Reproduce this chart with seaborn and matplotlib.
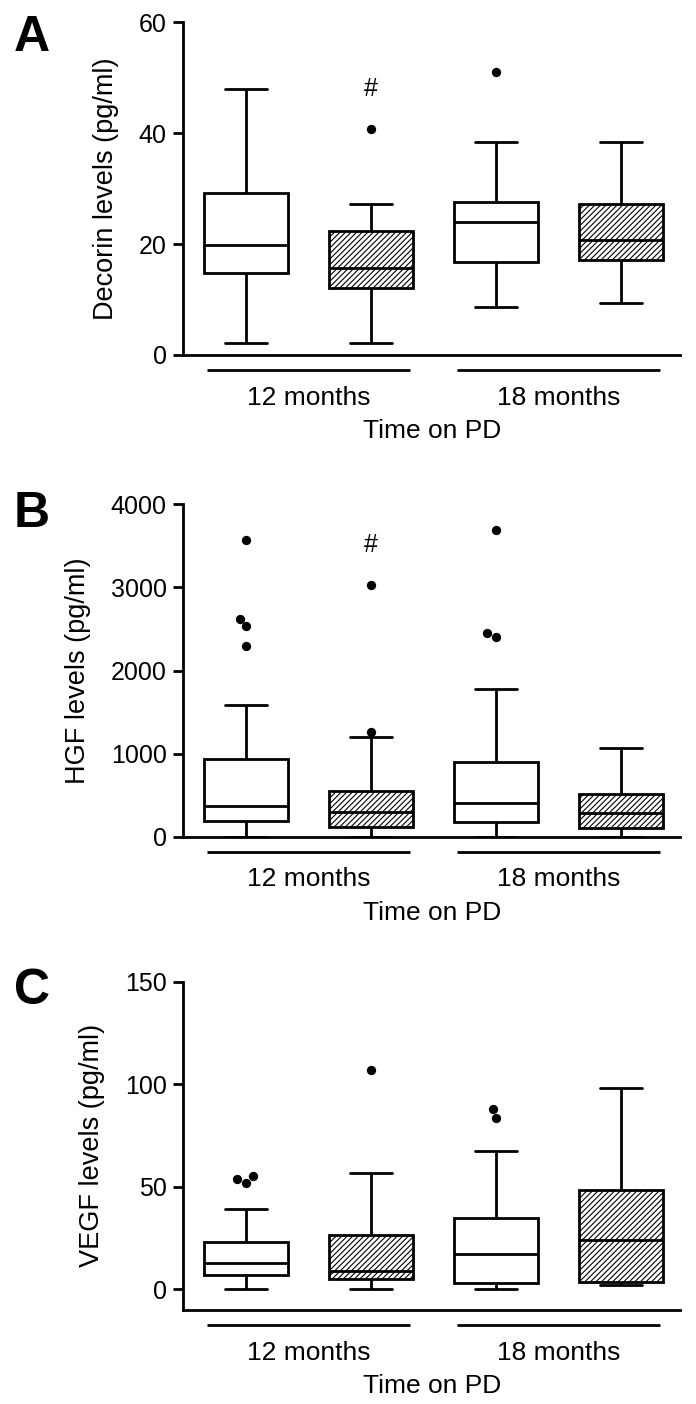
import numpy as np
import pandas as pd
import matplotlib
matplotlib.use("Agg")
import matplotlib.pyplot as plt
import matplotlib.transforms as mtransforms
import seaborn as sns

# ---------------- data ----------------
time_labels = ["12 months", "18 months"]
box_hatch = ["", "//////", "", "//////"]     # open / hatched boxes per time point

decorin_low = [2.1, 2.1, 8.7, 9.4]
decorin_q1 = [14.8, 12.0, 16.7, 17.2]
decorin_median = [19.9, 15.7, 24.0, 20.8]
decorin_q3 = [29.3, 22.3, 27.6, 27.2]
decorin_high = [47.9, 27.2, 38.5, 38.4]
decorin_outliers = [[], [40.7], [51.0], []]
decorin_sig = [1]

hgf_low = [0, 0, 0, 0]
hgf_q1 = [192, 113, 181, 101]
hgf_median = [365, 292, 402, 285]
hgf_q3 = [932, 554, 893, 516]
hgf_high = [1580, 1200, 1780, 1062]
hgf_outliers = [[2292, 2533, 2619, 3569], [1257, 3030], [2400, 2449, 3693], []]
hgf_sig = [1]

vegf_low = [0, 0, 0, 2.1]
vegf_q1 = [7.1, 5.2, 3.3, 3.7]
vegf_median = [13.0, 9.1, 17.1, 23.9]
vegf_q3 = [23.1, 26.4, 35.0, 48.6]
vegf_high = [39.3, 57.0, 67.5, 98.0]
vegf_outliers = [[52.1, 53.7, 55.1], [107.1], [83.7, 88.0], []]
vegf_sig = []

panels = [
    dict(letter="A", ylabel="Decorin levels (pg/ml)", low=decorin_low, q1=decorin_q1,
         med=decorin_median, q3=decorin_q3, high=decorin_high, out=decorin_outliers,
         sig=decorin_sig, ylim=(0, 60), yticks=[0, 20, 40, 60]),
    dict(letter="B", ylabel="HGF levels (pg/ml)", low=hgf_low, q1=hgf_q1,
         med=hgf_median, q3=hgf_q3, high=hgf_high, out=hgf_outliers,
         sig=hgf_sig, ylim=(0, 4000), yticks=[0, 1000, 2000, 3000, 4000]),
    dict(letter="C", ylabel="VEGF levels (pg/ml)", low=vegf_low, q1=vegf_q1,
         med=vegf_median, q3=vegf_q3, high=vegf_high, out=vegf_outliers,
         sig=vegf_sig, ylim=(-10, 150), yticks=[0, 50, 100, 150]),
]

# ---------------- style ----------------
sns.set_style("ticks")
plt.rcParams["font.family"] = ["Liberation Sans", "DejaVu Sans"]
plt.rcParams["hatch.linewidth"] = 0.8
plt.rcParams["axes.linewidth"] = 2.0
for k in ("text.color", "axes.labelcolor", "xtick.color", "ytick.color", "axes.edgecolor"):
    plt.rcParams[k] = "black"

W, H = 696, 1404
fig = plt.figure(figsize=(W / 100, H / 100), dpi=100)

# axes rectangles in pixels: (left, top, right, bottom)
rects_px = [(183.3, 22.3, 680, 355), (183.3, 504.3, 680, 836.7), (183.3, 981.7, 680, 1310)]
letter_baseline_px = [51, 527, 1004]

box_width = 0.67
for p, (l, t, r, b), lb in zip(panels, rects_px, letter_baseline_px):
    ax = fig.add_axes([l / W, 1 - b / H, (r - l) / W, (b - t) / H])
    n = len(p["med"])
    pos = list(range(n))
    rows = []
    for i in pos:
        for v in (p["low"][i], p["q1"][i], p["med"][i], p["q3"][i], p["high"][i]):
            rows.append((i, v))
    box_df = pd.DataFrame(rows, columns=["pos", "value"])
    sns.boxplot(data=box_df, x="pos", y="value", native_scale=True, width=box_width,
                whis=(0, 100), showfliers=False, color="white", linecolor="black",
                linewidth=2.0, saturation=1, ax=ax)
    for patch, h in zip(ax.patches, box_hatch):
        patch.set_hatch(h)
        patch.set_edgecolor("black")

    out_rows = [(i, v) for i in pos for v in p["out"][i]]
    out_df = pd.DataFrame(out_rows, columns=["pos", "value"])
    sns.swarmplot(data=out_df, x="pos", y="value", native_scale=True, color="black",
                  size=6.7, ax=ax, zorder=5)

    for i in p["sig"]:
        top = max([p["high"][i]] + p["out"][i])
        ax.annotate("#", xy=(i, top), xytext=(0, 24), textcoords="offset points",
                    ha="center", va="baseline", fontsize=18)

    ax.set_xlim(-0.5, 3.472)
    ax.set_ylim(*p["ylim"])
    ax.set_yticks(p["yticks"])
    centers = [np.mean(pos[0:2]), np.mean(pos[2:4])]
    ax.set_xticks(centers, time_labels)
    ax.tick_params(axis="x", length=0, pad=22, labelsize=19)
    ax.tick_params(axis="y", length=7, width=2.0, pad=5, labelsize=18)
    ax.set_xlabel("Time on PD", fontsize=19, labelpad=7)
    ax.set_ylabel(p["ylabel"], fontsize=19.5, labelpad=14)
    sns.despine(ax=ax)

    trans = mtransforms.offset_copy(ax.get_xaxis_transform(), fig=fig, y=-15, units="dots")
    for c in centers:
        ax.plot([c - 0.81, c + 0.81], [0, 0], transform=trans, clip_on=False,
                color="black", lw=2.0, solid_capstyle="butt")

    fig.text(14 / W, 1 - lb / H, p["letter"], fontsize=36, fontweight="bold",
             ha="left", va="baseline")

fig.savefig("out.png", dpi=100)
